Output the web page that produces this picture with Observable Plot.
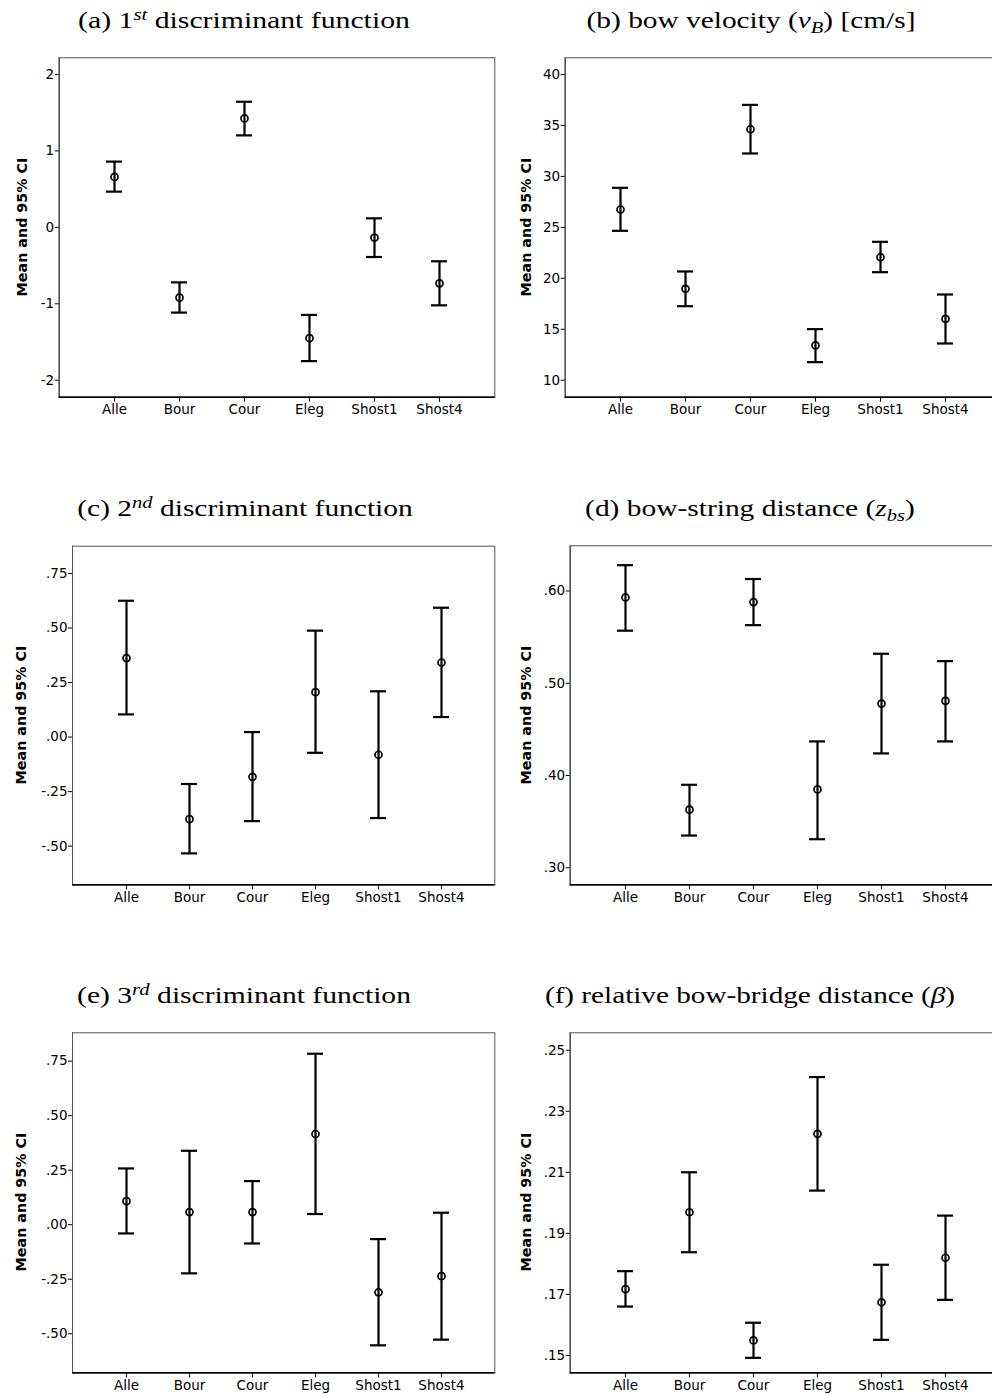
<!DOCTYPE html>
<html>
<head>
<meta charset="utf-8">
<script src="https://cdn.jsdelivr.net/npm/d3@7"></script>
<script src="https://cdn.jsdelivr.net/npm/@observablehq/plot@0.6"></script>
<style>
  html, body { margin: 0; padding: 0; background: #fff; overflow: hidden; }
  #root { position: relative; width: 992px; height: 1396px; overflow: hidden; background: #fff; }
  .panel { position: absolute; }
  .panel svg { max-width: none !important; display: block; }
  .title { position: absolute; white-space: nowrap; font-family: "Liberation Serif", serif;
           font-size: 24px; line-height: 24px; color: #000; transform-origin: center center; }
  .title .sup { font-style: italic; font-size: 0.7em; position: relative; top: -0.5em; }
  .title .sub { font-style: italic; font-size: 0.7em; position: relative; top: 0.3em; }
  .ylab { position: absolute; white-space: nowrap; font-family: "DejaVu Sans", sans-serif; font-weight: bold;
          font-size: 14.3px; color: #000; transform: translate(-50%, -50%) rotate(-90deg); }
</style>
</head>
<body>
<div id="root"></div>
<script>
// ---------------- data ----------------
const categories = ["Alle", "Bour", "Cour", "Eleg", "Shost1", "Shost4"];

// (a) 1st discriminant function
const meanA = [0.66, -0.92, 1.425, -1.45, -0.135, -0.732];
const lowA  = [0.467, -1.115, 1.203, -1.75, -0.388, -1.02];
const highA = [0.86, -0.72, 1.643, -1.146, 0.118, -0.444];

// (b) bow velocity
const meanB = [26.75, 18.97, 34.63, 13.41, 22.07, 16.02];
const lowB  = [24.66, 17.26, 32.25, 11.77, 20.60, 13.60];
const highB = [28.88, 20.67, 37.02, 15.01, 23.58, 18.41];

// (c) 2nd discriminant function
const meanC = [0.362, -0.376, -0.182, 0.206, -0.081, 0.342];
const lowC  = [0.104, -0.533, -0.385, -0.072, -0.371, 0.092];
const highC = [0.625, -0.215, 0.023, 0.488, 0.210, 0.593];

// (d) bow-string distance
const meanD = [0.593, 0.363, 0.588, 0.385, 0.478, 0.481];
const lowD  = [0.557, 0.335, 0.563, 0.331, 0.424, 0.437];
const highD = [0.628, 0.390, 0.613, 0.437, 0.532, 0.524];

// (e) 3rd discriminant function
const meanE = [0.108, 0.058, 0.058, 0.416, -0.310, -0.236];
const lowE  = [-0.040, -0.223, -0.086, 0.049, -0.553, -0.527];
const highE = [0.258, 0.339, 0.200, 0.784, -0.066, 0.055];

// (f) relative bow-bridge distance
const meanF = [0.1717, 0.1969, 0.1549, 0.2226, 0.1674, 0.1820];
const lowF  = [0.1660, 0.1838, 0.1492, 0.2040, 0.1551, 0.1682];
const highF = [0.1776, 0.2100, 0.1607, 0.2412, 0.1797, 0.1958];

// tick values and labels
const ticksA = [-2, -1, 0, 1, 2];
const tickLabelsA = ["-2", "-1", "0", "1", "2"];
const ticksB = [10, 15, 20, 25, 30, 35, 40];
const tickLabelsB = ["10", "15", "20", "25", "30", "35", "40"];
const ticksC = [-0.5, -0.25, 0, 0.25, 0.5, 0.75];
const tickLabelsC = ["-.50", "-.25", ".00", ".25", ".50", ".75"];
const ticksD = [0.3, 0.4, 0.5, 0.6];
const tickLabelsD = [".30", ".40", ".50", ".60"];
const ticksE = [-0.5, -0.25, 0, 0.25, 0.5, 0.75];
const tickLabelsE = ["-.50", "-.25", ".00", ".25", ".50", ".75"];
const ticksF = [0.15, 0.17, 0.19, 0.21, 0.23, 0.25];
const tickLabelsF = [".15", ".17", ".19", ".21", ".23", ".25"];

const titles = [
  '(a) 1<span class="sup">st</span> discriminant function',
  '(b) bow velocity (<i>v</i><span class="sub">B</span>) [cm/s]',
  '(c) 2<span class="sup">nd</span> discriminant function',
  '(d) bow-string distance (<i>z</i><span class="sub">bs</span>)',
  '(e) 3<span class="sup">rd</span> discriminant function',
  '(f) relative bow-bridge distance (<i>β</i>)'
];
const yLabel = "Mean and 95% CI";

// ---------------- layout ----------------
const panels = [
  {mean: meanA, low: lowA, high: highA, ticks: ticksA, labels: tickLabelsA, domain: [-2.222, 2.218],
   left: 0, top: 40, width: 500, height: 385, mL: 58.7, mR: 5.7, mT: 17.3, mB: 28.3,
   titleX: 244, titleBase: 28, titleW: 332, labX: 21.5, labY: 227},
  {mean: meanB, low: lowB, high: highB, ticks: ticksB, labels: tickLabelsB, domain: [8.33, 41.64],
   left: 500, top: 40, width: 505, height: 385, mL: 64.7, mR: 4.7, mT: 17.3, mB: 28.3,
   titleX: 750.5, titleBase: 28, titleW: 329, labX: 525.5, labY: 227},
  {mean: meanC, low: lowC, high: highC, ticks: ticksC, labels: tickLabelsC, domain: [-0.677, 0.875],
   left: 0, top: 528, width: 500, height: 385, mL: 72, mR: 5.7, mT: 17.7, mB: 28.7,
   titleX: 244.5, titleBase: 516, titleW: 335, labX: 20.5, labY: 715},
  {mean: meanD, low: lowD, high: highD, ticks: ticksD, labels: tickLabelsD, domain: [0.2816, 0.649],
   left: 500, top: 528, width: 505, height: 385, mL: 69.7, mR: 4.3, mT: 17.3, mB: 28.7,
   titleX: 750, titleBase: 516, titleW: 330, labX: 525.5, labY: 715},
  {mean: meanE, low: lowE, high: highE, ticks: ticksE, labels: tickLabelsE, domain: [-0.679, 0.880],
   left: 0, top: 1015, width: 500, height: 381, mL: 72, mR: 5.7, mT: 17.3, mB: 23.7,
   titleX: 244, titleBase: 1003, titleW: 334, labX: 20.5, labY: 1202.3},
  {mean: meanF, low: lowF, high: highF, ticks: ticksF, labels: tickLabelsF, domain: [0.1443, 0.2557],
   left: 500, top: 1015, width: 505, height: 381, mL: 69.7, mR: 4.3, mT: 17.3, mB: 23.7,
   titleX: 750, titleBase: 1003, titleW: 410, labX: 525.7, labY: 1202.3}
];

const root = document.getElementById("root");

function makePanel(p) {
  const data = categories.map((c, i) => ({cat: c, mean: p.mean[i], low: p.low[i], high: p.high[i]}));
  const labelMap = new Map(p.ticks.map((t, i) => [t, p.labels[i]]));
  const fmt = d => labelMap.has(d) ? labelMap.get(d) : String(d);
  const svg = Plot.plot({
    width: p.width,
    height: p.height,
    marginLeft: p.mL, marginRight: p.mR, marginTop: p.mT, marginBottom: p.mB,
    style: {fontFamily: "DejaVu Sans, sans-serif", fontSize: "13.5px", color: "#000", background: "#fff", overflow: "visible"},
    x: {type: "band", domain: categories, paddingInner: 0.75, paddingOuter: 0.72, label: null,
        tickSize: 5, tickPadding: 2.5, line: true},
    y: {domain: p.domain, ticks: p.ticks, tickFormat: fmt, label: null,
        tickSize: 4, tickPadding: 1, line: true},
    marks: [
      Plot.frame({stroke: "#555", strokeWidth: 1}),
      Plot.ruleY([p.domain[0]], {stroke: "#000", strokeWidth: 1.4}),
      Plot.ruleX(data, {x: "cat", y1: "low", y2: "high", stroke: "#000", strokeWidth: 2.2}),
      Plot.tickY(data, {x: "cat", y: "low", stroke: "#000", strokeWidth: 2.2}),
      Plot.tickY(data, {x: "cat", y: "high", stroke: "#000", strokeWidth: 2.2}),
      Plot.dot(data, {x: "cat", y: "mean", r: 3.5, stroke: "#000", strokeWidth: 1.7, fill: "none"})
    ]
  });
  const div = document.createElement("div");
  div.className = "panel";
  div.style.left = p.left + "px";
  div.style.top = p.top + "px";
  div.style.width = p.width + "px";
  div.style.height = p.height + "px";
  div.appendChild(svg);
  root.appendChild(div);
}

panels.forEach(makePanel);

panels.forEach((p, i) => {
  const t = document.createElement("div");
  t.className = "title";
  t.innerHTML = titles[i];
  root.appendChild(t);
  const w = t.offsetWidth;
  const s = p.titleW / w;
  t.style.left = p.titleX + "px";
  t.style.top = (p.titleBase - 20.1) + "px";
  t.style.transform = `translateX(-50%) scaleX(${s})`;

  const l = document.createElement("div");
  l.className = "ylab";
  l.textContent = yLabel;
  l.style.left = p.labX + "px";
  l.style.top = p.labY + "px";
  root.appendChild(l);
});
</script>
</body>
</html>
